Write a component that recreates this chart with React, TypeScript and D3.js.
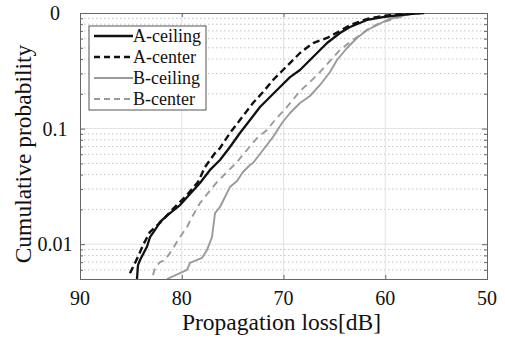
import React, { useEffect, useRef } from "react";
import * as d3 from "d3";

// propagation loss [dB] and cumulative probability
const aCeilingLoss = [84.4, 84.3, 84.1, 83.42, 83.12, 82.43, 82.14, 81.15, 80.17, 79.19, 78.21, 77.22, 76.24, 75.26, 74.28, 73.29, 72.31, 71.33, 70.34, 69.36, 68.38, 67.1, 65.72, 64.45, 63.46, 61.79, 60.22, 58.55, 57.57, 56.58];
const aCeilingProb = [0.005, 0.0066, 0.0073, 0.0095, 0.0115, 0.0141, 0.0156, 0.0186, 0.0218, 0.0272, 0.0338, 0.0439, 0.0535, 0.0693, 0.0916, 0.1186, 0.1538, 0.1877, 0.229, 0.279, 0.321, 0.416, 0.55, 0.671, 0.757, 0.87, 0.923, 0.961, 0.98, 1.0];

const aCenterLoss = [85.09, 84.3, 83.81, 83.12, 82.14, 80.96, 79.48, 78.4, 77.71, 76.73, 76.24, 75.26, 74.28, 73.0, 72.01, 71.03, 70.05, 68.38, 67.1, 65.72, 64.64, 63.46, 61.79, 60.22, 58.55, 56.09];
const aCenterProb = [0.0056, 0.0078, 0.0098, 0.0128, 0.0153, 0.0198, 0.0267, 0.0345, 0.0466, 0.0615, 0.0679, 0.0916, 0.1186, 0.1665, 0.2073, 0.2632, 0.3214, 0.451, 0.55, 0.608, 0.685, 0.787, 0.887, 0.942, 0.98, 1.0];

const bCeilingLoss = [81.45, 79.48, 79.19, 78.01, 77.52, 77.03, 76.73, 76.24, 75.75, 75.26, 74.57, 73.98, 73.29, 73.0, 72.01, 71.03, 70.15, 69.36, 68.38, 67.4, 66.41, 65.43, 64.74, 63.76, 62.78, 61.79, 60.81, 59.83, 58.84, 57.57, 56.58];
const bCeilingProb = [0.005, 0.006, 0.0069, 0.0076, 0.0089, 0.0115, 0.0186, 0.021, 0.0256, 0.0313, 0.0352, 0.0421, 0.0484, 0.0504, 0.0653, 0.0846, 0.1118, 0.1365, 0.1665, 0.1914, 0.2384, 0.309, 0.392, 0.498, 0.608, 0.713, 0.787, 0.87, 0.923, 0.98, 1.0];

const bCenterLoss = [82.83, 82.63, 82.14, 81.65, 80.96, 80.37, 79.48, 78.99, 78.21, 77.42, 76.54, 75.55, 74.57, 73.59, 72.6, 71.62, 70.84, 69.66, 68.38, 67.4, 66.41, 65.43, 64.45, 63.46, 62.48, 61.5, 60.52, 59.53, 58.55, 57.57, 57.08];
const bCenterProb = [0.0054, 0.0062, 0.007, 0.0073, 0.0089, 0.0109, 0.0141, 0.0172, 0.0227, 0.0277, 0.0345, 0.0421, 0.0514, 0.0653, 0.0829, 0.0973, 0.1186, 0.1538, 0.2115, 0.2531, 0.309, 0.3845, 0.4786, 0.561, 0.645, 0.742, 0.819, 0.87, 0.923, 0.98, 1.0];

const xTicks = [90, 80, 70, 60, 50];
const yTicks = [1, 0.1, 0.01];
const yTickLabels = ["0", "0.1", "0.01"];
const yMinor = [0.006, 0.007, 0.008, 0.009, 0.02, 0.03, 0.04, 0.05, 0.06, 0.07, 0.08, 0.09, 0.2, 0.3, 0.4, 0.5, 0.6, 0.7, 0.8, 0.9];

const seriesNames = ["A-ceiling", "A-center", "B-ceiling", "B-center"];
const seriesLoss = [aCeilingLoss, aCenterLoss, bCeilingLoss, bCenterLoss];
const seriesProb = [aCeilingProb, aCenterProb, bCeilingProb, bCenterProb];
const seriesColor = ["#111", "#111", "#9a9a9a", "#9a9a9a"];
const seriesDash = [null, "7,4", null, "7,5"];
const seriesWidth = [2.3, 2.4, 1.9, 1.9];

const W = 505;
const H = 340;
const margin = { left: 80, right: 18, top: 13, bottom: 61 };
const FONT = "'Liberation Serif', 'Times New Roman', serif";

export default function App() {
  const ref = useRef<SVGSVGElement>(null);

  useEffect(() => {
    const svg = d3.select(ref.current);
    svg.selectAll("*").remove();

    const width = W - margin.left - margin.right;
    const height = H - margin.top - margin.bottom;

    const x = d3.scaleLinear().domain([90, 50]).range([0, width]);
    const y = d3.scaleLog().domain([0.005, 1]).range([height, 0]);

    const g = svg
      .append("g")
      .attr("transform", "translate(" + margin.left + "," + margin.top + ")");

    g.append("clipPath")
      .attr("id", "plotclip")
      .append("rect")
      .attr("width", width)
      .attr("height", height);

    // minor dotted grid
    g.append("g")
      .selectAll("line")
      .data(yMinor)
      .enter()
      .append("line")
      .attr("x1", 0)
      .attr("x2", width)
      .attr("y1", d => y(d))
      .attr("y2", d => y(d))
      .attr("stroke", "#c4c4c4")
      .attr("stroke-width", 1)
      .attr("stroke-dasharray", "1.5,2.5");

    // major grid
    g.append("g")
      .selectAll("line")
      .data(yTicks.slice(1))
      .enter()
      .append("line")
      .attr("x1", 0)
      .attr("x2", width)
      .attr("y1", d => y(d))
      .attr("y2", d => y(d))
      .attr("stroke", "#e2e2e2")
      .attr("stroke-width", 1);
    g.append("g")
      .selectAll("line")
      .data(xTicks.slice(1, -1))
      .enter()
      .append("line")
      .attr("x1", d => x(d))
      .attr("x2", d => x(d))
      .attr("y1", 0)
      .attr("y2", height)
      .attr("stroke", "#e2e2e2")
      .attr("stroke-width", 1);

    // axes with inward ticks
    const xAxisB = d3.axisBottom(x).tickValues(xTicks).tickSize(-4).tickFormat(() => "");
    const xAxisT = d3.axisTop(x).tickValues(xTicks).tickSize(-4).tickFormat(() => "");
    const yAxisL = d3.axisLeft(y).tickValues(yTicks).tickSize(-5).tickFormat(() => "");
    const yAxisR = d3.axisRight(y).tickValues(yTicks).tickSize(-5).tickFormat(() => "");
    const yMinL = d3.axisLeft(y).tickValues(yMinor).tickSize(-3).tickFormat(() => "");
    const yMinR = d3.axisRight(y).tickValues(yMinor).tickSize(-3).tickFormat(() => "");

    const axes = [
      [xAxisB, "translate(0," + height + ")"],
      [xAxisT, "translate(0,0)"],
      [yAxisL, "translate(0,0)"],
      [yAxisR, "translate(" + width + ",0)"],
      [yMinL, "translate(0,0)"],
      [yMinR, "translate(" + width + ",0)"]
    ] as const;
    axes.forEach(([ax, tr]) => {
      const a = g.append("g").attr("transform", tr).call(ax as any);
      a.select(".domain").attr("stroke", "#666");
      a.selectAll(".tick line").attr("stroke", "#666");
    });

    // tick labels
    g.append("g")
      .selectAll("text")
      .data(xTicks)
      .enter()
      .append("text")
      .attr("x", d => x(d))
      .attr("y", height + 26)
      .attr("text-anchor", "middle")
      .attr("font-family", FONT)
      .attr("font-size", 20)
      .attr("fill", "#111")
      .text(d => d);
    g.append("g")
      .selectAll("text")
      .data(yTicks)
      .enter()
      .append("text")
      .attr("x", -25)
      .attr("y", d => y(d) + 7)
      .attr("text-anchor", "middle")
      .attr("font-family", FONT)
      .attr("font-size", 20)
      .attr("fill", "#111")
      .text((d, i) => yTickLabels[i]);

    // axis titles
    svg
      .append("text")
      .attr("x", margin.left + width / 2 - 2)
      .attr("y", 330)
      .attr("text-anchor", "middle")
      .attr("font-family", FONT)
      .attr("font-size", 23.5)
      .attr("fill", "#111")
      .text("Propagation loss[dB]");
    svg
      .append("text")
      .attr("transform", "translate(31,154) rotate(-90)")
      .attr("text-anchor", "middle")
      .attr("font-family", FONT)
      .attr("font-size", 23.5)
      .attr("fill", "#111")
      .text("Cumulative probability");

    // curves
    const line = d3
      .line<[number, number]>()
      .x(d => x(d[0]))
      .y(d => y(d[1]));

    const curves = g.append("g").attr("clip-path", "url(#plotclip)");
    [3, 2, 1, 0].forEach(i => {
      const pts = seriesLoss[i].map((v, j) => [v, seriesProb[i][j]] as [number, number]);
      curves
        .append("path")
        .attr("d", line(pts))
        .attr("fill", "none")
        .attr("stroke", seriesColor[i])
        .attr("stroke-width", seriesWidth[i])
        .attr("stroke-dasharray", seriesDash[i])
        .attr("stroke-linejoin", "round");
    });

    // legend
    const lg = svg.append("g").attr("transform", "translate(89,26)");
    lg.append("rect")
      .attr("width", 117)
      .attr("height", 84)
      .attr("fill", "#fff")
      .attr("stroke", "#555")
      .attr("stroke-width", 1);
    seriesNames.forEach((name, i) => {
      const cy = 10 + i * 21;
      lg.append("line")
        .attr("x1", 5)
        .attr("x2", 44)
        .attr("y1", cy)
        .attr("y2", cy)
        .attr("stroke", seriesColor[i])
        .attr("stroke-width", seriesWidth[i] + 0.3)
        .attr("stroke-dasharray", seriesDash[i] ? "6,4" : null);
      lg.append("text")
        .attr("x", 44)
        .attr("y", cy + 6)
        .attr("font-family", FONT)
        .attr("font-size", 18)
        .attr("fill", "#111")
        .text(name);
    });
  }, []);

  return (
    <svg
      ref={ref}
      width={W}
      height={H}
      style={{ position: "absolute", left: 0, top: 0, background: "#fff" }}
    />
  );
}
